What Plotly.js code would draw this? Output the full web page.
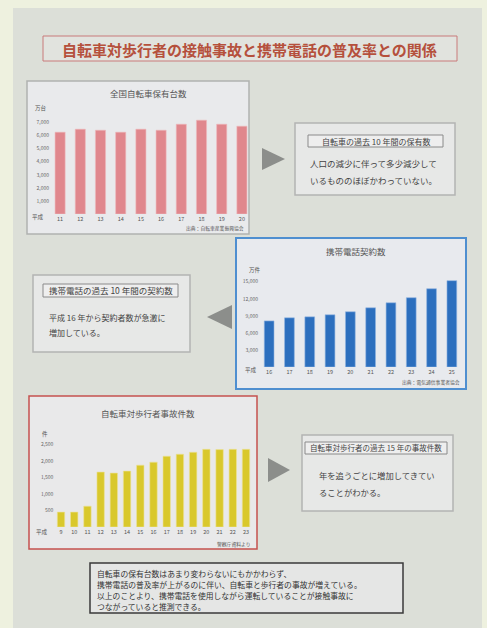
<!DOCTYPE html>
<html><head><meta charset="utf-8">
<script src="https://cdn.plot.ly/plotly-3.0.1.min.js"></script>
<style>html,body{margin:0;padding:0;background:#eef1df;}#chart{width:487px;height:628px;}</style>
</head><body><div id="chart"></div>
<script>
// ---- data ----
const bikeYears = ["11","12","13","14","15","16","17","18","19","20"];
const bikeOwnership = [6260,6490,6410,6260,6490,6410,6870,7180,6870,6720];
const bikeTicks = [1000,2000,3000,4000,5000,6000,7000];

const phoneYears = ["16","17","18","19","20","21","22","23","24","25"];
const phoneContracts = [8100,8650,8820,9180,9710,10410,11290,12180,13760,15180];
const phoneTicks = [3000,6000,9000,12000,15000];

const accidentYears = ["9","10","11","12","13","14","15","16","17","18","19","20","21","22","23"];
const accidents = [450,450,630,1660,1630,1690,1870,1960,2140,2200,2260,2350,2340,2350,2350];
const accidentTicks = [500,1000,1500,2000,2500];

const mainTitle = "自転車対歩行者の接触事故と携帯電話の普及率との関係";
const chartTitles = ["全国自転車保有台数","携帯電話契約数","自転車対歩行者事故件数"];
const units = ["万台","万件","件"];
const sources = ["出典：自転車産業振興協会","出典：電気通信事業者協会","警察庁資料より"];
const box1Header = "自転車の過去 10 年間の保有数";
const box1Lines = ["人口の減少に伴って多少減少して","いるもののほぼかわっていない。"];
const box2Header = "携帯電話の過去 10 年間の契約数";
const box2Lines = ["平成 16 年から契約者数が急激に","増加している。"];
const box3Header = "自転車対歩行者の過去 15 年の事故件数";
const box3Lines = ["年を追うごとに増加してきてい","ることがわかる。"];
const summaryLines = [
  "自転車の保有台数はあまり変わらないにもかかわらず、",
  "携帯電話の普及率が上がるのに伴い、自転車と歩行者の事故が増えている。",
  "以上のことより、携帯電話を使用しながら運転していることが接触事故に",
  "つながっていると推測できる。"
];

// ---- layout helpers ----
const W = 487, H = 628;
const FONT = '"Noto Sans CJK JP", "Noto Sans", sans-serif';
const fx = x => x / W;
const fy = y => 1 - y / H;
const fmt = v => v.toLocaleString('en-US');

function rect(x0, y0, x1, y1, fill, line, lw) {
  return {type:'rect', xref:'paper', yref:'paper', x0:fx(x0), x1:fx(x1), y0:fy(y1), y1:fy(y0),
    fillcolor:fill, line:{color:line || 'rgba(0,0,0,0)', width: lw || 0}, layer:'below'};
}
function tri(pts, color) {
  const d = 'M ' + pts.map(p => fx(p[0]) + ',' + fy(p[1])).join(' L ') + ' Z';
  return {type:'path', xref:'paper', yref:'paper', path:d, fillcolor:color, line:{width:0}, layer:'below'};
}
function txt(x, y, text, size, color, anchor, extra) {
  return Object.assign({xref:'paper', yref:'paper', x:fx(x), y:fy(y), text:text, showarrow:false,
    xanchor:anchor || 'center', yanchor:'middle', font:{family:FONT, size:size, color:color || '#444'}}, extra || {});
}

const tickFont = {family:FONT, size:5, color:'#666'};
function xax(d0, d1, anchor) {
  return {domain:[fx(d0), fx(d1)], anchor:anchor, type:'category', showgrid:false, zeroline:false,
    showline:false, ticks:'', tickfont:{family:FONT, size:5.5, color:'#555'}, fixedrange:true};
}
function yax(top, bottom, maxv, tickvals, anchor) {
  return {domain:[fy(bottom), fy(top)], anchor:anchor, range:[0, maxv], showgrid:false, zeroline:false,
    showline:false, ticks:'', tickvals:tickvals, ticktext:tickvals.map(fmt), tickfont:tickFont, fixedrange:true};
}

const traces = [
  {type:'bar', x:bikeYears, y:bikeOwnership, xaxis:'x', yaxis:'y', width:0.5,
   marker:{color:'#e0878d', line:{color:'#eeb9bc', width:0.6}}, hoverinfo:'skip'},
  {type:'bar', x:phoneYears, y:phoneContracts, xaxis:'x2', yaxis:'y2', width:0.48,
   marker:{color:'#2c6fbe', line:{color:'#8fb4e0', width:0.6}}, hoverinfo:'skip'},
  {type:'bar', x:accidentYears, y:accidents, xaxis:'x3', yaxis:'y3', width:0.56,
   marker:{color:'#d9c82c', line:{color:'#ece39a', width:0.6}}, hoverinfo:'skip'}
];

const shapes = [
  rect(13, 8, 482, 628, '#dcdfd8'),
  rect(43, 36, 457, 61, '#e1e3de', '#c97b7b', 1),
  rect(27, 81, 249, 234, '#e9eaec', '#b0b2b0', 1.5),
  rect(236, 238, 466, 389, '#e8eaee', '#4f8fd0', 2),
  rect(29, 396, 257, 549, '#e9e9ea', '#c5524f', 1.5),
  rect(295, 123, 455, 195, '#e7e8e7', '#b3b4b3', 1.5),
  rect(308, 135, 443, 147, '#eeeeee', '#8a8a8a', 1),
  rect(33, 275, 190, 352, '#e7e8e7', '#b3b4b3', 1.5),
  rect(43, 284, 178, 297, '#eeeeee', '#8a8a8a', 1),
  rect(302, 435, 453, 511, '#e7e8e7', '#b3b4b3', 1.5),
  rect(305, 442, 447, 454, '#eeeeee', '#8a8a8a', 1),
  rect(90, 563, 403, 613, '#e5e6e5', '#3a3a3a', 1.5),
  tri([[262,148],[262,170],[285,159]], '#8c8e8b'),
  tri([[232,305],[232,329],[207,317]], '#8c8e8b'),
  tri([[268,458],[268,482],[290,470]], '#8c8e8b')
];

const annotations = [
  txt(250, 49, mainTitle, 15, '#b5503c', 'center', {font:{family:FONT, size:15, color:'#b5503c', weight:700}}),
  txt(148, 93, chartTitles[0], 8.5, '#555'),
  txt(356, 251, chartTitles[1], 8.5, '#555'),
  txt(148, 413, chartTitles[2], 8.5, '#555'),
  txt(41, 108, units[0], 5.5, '#555'),
  txt(255, 270, units[1], 5.5, '#555'),
  txt(45, 434, units[2], 5.5, '#555'),
  txt(38, 217, '平成', 5.5, '#555'),
  txt(251, 370, '平成', 5.5, '#555'),
  txt(42, 532, '平成', 5.5, '#555'),
  txt(246, 228, sources[0], 4.8, '#555', 'right'),
  txt(462, 382, sources[1], 4.8, '#555', 'right'),
  txt(252, 544, sources[2], 4.8, '#555', 'right'),
  txt(375.5, 141, box1Header, 8, '#444'),
  txt(308, 163, box1Lines[0], 8.5, '#444', 'left'),
  txt(308, 180, box1Lines[1], 8.5, '#444', 'left'),
  txt(110.5, 290.5, box2Header, 8.5, '#444'),
  txt(47, 317, box2Lines[0], 8, '#444', 'left'),
  txt(47, 332, box2Lines[1], 8, '#444', 'left'),
  txt(376, 448, box3Header, 7.5, '#444'),
  txt(317, 475, box3Lines[0], 8.3, '#444', 'left'),
  txt(317, 492, box3Lines[1], 8.3, '#444', 'left'),
  txt(95, 573, summaryLines[0], 7.8, '#333', 'left'),
  txt(95, 584, summaryLines[1], 7.8, '#333', 'left'),
  txt(95, 595, summaryLines[2], 7.8, '#333', 'left'),
  txt(95, 606, summaryLines[3], 7.8, '#333', 'left')
];

const layout = {
  width: W, height: H,
  margin:{l:0, r:0, t:0, b:0, pad:0},
  paper_bgcolor:'#eef1df', plot_bgcolor:'rgba(0,0,0,0)',
  showlegend:false, bargap:0.5,
  font:{family:FONT},
  xaxis: xax(50, 252, 'y'),
  yaxis: yax(116, 214, 7500, bikeTicks, 'x'),
  xaxis2: xax(259, 462, 'y2'),
  yaxis2: yax(276, 367, 16000, phoneTicks, 'x2'),
  xaxis3: xax(54.4, 252.6, 'y3'),
  yaxis3: yax(441, 527, 2600, accidentTicks, 'x3'),
  shapes: shapes,
  annotations: annotations
};

Plotly.newPlot('chart', traces, layout, {displayModeBar:false, staticPlot:true});
</script></body></html>
